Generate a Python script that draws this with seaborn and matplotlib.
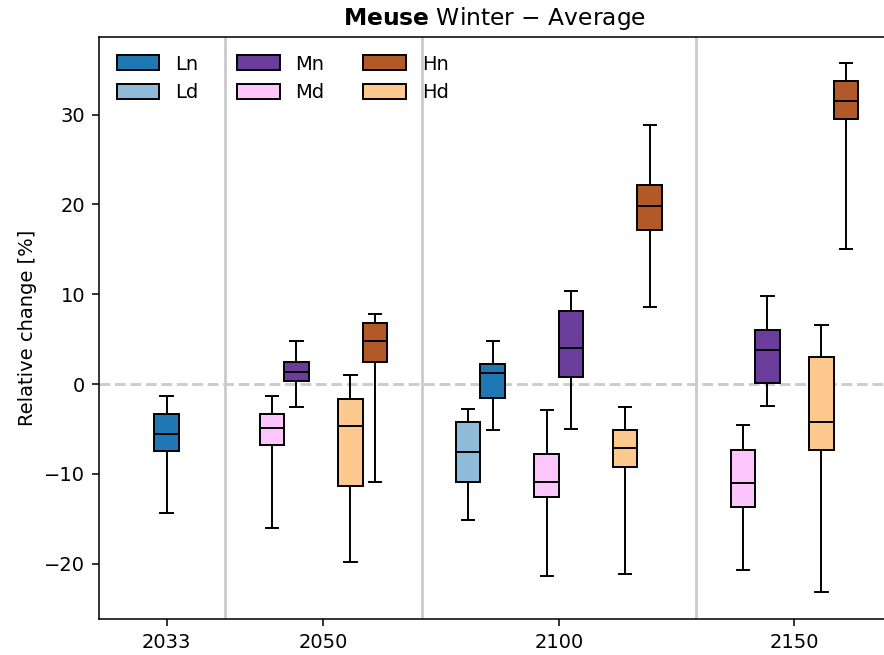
import matplotlib
matplotlib.use("Agg")
import matplotlib.pyplot as plt
import numpy as np
import pandas as pd
import seaborn as sns

# one entry per box
box_year = ["2033",
            "2050", "2050", "2050", "2050",
            "2100", "2100", "2100", "2100", "2100", "2100",
            "2150", "2150", "2150", "2150"]
box_scen = ["Ln",
            "Md", "Mn", "Hd", "Hn",
            "Ld", "Ln", "Md", "Mn", "Hd", "Hn",
            "Md", "Mn", "Hd", "Hn"]
whis_lo = [-14.4, -16.0, -2.6, -19.8, -10.9, -15.1, -5.1, -21.4, -5.0, -21.1, 8.6, -20.7, -2.4, -23.1, 15.0]
q1 = [-7.5, -6.8, 0.3, -11.3, 2.5, -10.9, -1.6, -12.6, 0.8, -9.2, 17.2, -13.7, 0.15, -7.3, 29.5]
med = [-5.5, -4.9, 1.4, -4.7, 4.8, -7.55, 1.2, -10.85, 4.0, -7.1, 19.85, -11.0, 3.8, -4.25, 31.5]
q3 = [-3.3, -3.3, 2.5, -1.7, 6.75, -4.2, 2.2, -7.8, 8.1, -5.1, 22.2, -7.3, 6.05, 3.0, 33.7]
whis_hi = [-1.3, -1.3, 4.8, 1.0, 7.8, -2.75, 4.8, -2.85, 10.35, -2.5, 28.8, -4.6, 9.85, 6.6, 35.75]

years = ["2033", "2050", "2100", "2150"]
scenarios = ["Ln", "Ld", "Mn", "Md", "Hn", "Hd"]
colors = ["#1f77b4", "#8fbbd9", "#6a3d9a", "#fcc5fc", "#b15928", "#fec98f"]

# layout: group centres, level spacing 1, box width inside a pair
year_center = {"2033": 0.0, "2050": 2.0, "2100": 5.0, "2150": 8.0}
bw = 0.312
levels = ["L", "M", "H"]
variants = ["d", "n"]

pos = []
for y, s in zip(box_year, box_scen):
    present = [b for yy, b in zip(box_year, box_scen) if yy == y]
    lv = [l for l in levels if any(p[0] == l for p in present)]
    lc = year_center[y] + (lv.index(s[0]) - (len(lv) - 1) / 2)
    vv = [v for v in variants if s[0] + v in present]
    pos.append(lc + (vv.index(s[1]) - (len(vv) - 1) / 2) * bw)

rows = []
for p, s, a, b, c, d, e in zip(pos, box_scen, whis_lo, q1, med, q3, whis_hi):
    for v in (a, b, c, d, e):
        rows.append({"pos": p, "scen": s, "value": v})
df = pd.DataFrame(rows)

fig = plt.figure(figsize=(884 / 140, 655 / 140), dpi=140)
ax = fig.add_axes([0.112, 0.055, 0.895, 0.8885])

for xs in [0.75, 3.25, 6.75]:
    ax.axvline(xs, color="#cccccc", lw=1.5, zorder=0)
ax.axhline(0, color="#cccccc", lw=1.5, ls="--", zorder=0)

sns.boxplot(data=df, x="pos", y="value", hue="scen", hue_order=scenarios,
            palette=colors, native_scale=True, dodge=False, width=1.0,
            whis=(0, 100), saturation=1, linecolor="black", linewidth=1.0,
            ax=ax)

sns.move_legend(ax, "upper left", ncol=3, frameon=False, title=None,
                handlelength=2.2, handleheight=0.8)

ax.set_xlim(-0.86, 9.22)
ax.set_ylim(-26.14, 38.63)
ax.set_xticks([year_center[y] for y in years])
ax.set_xticklabels(years)
ax.set_yticks([-20, -10, 0, 10, 20, 30])
ax.set_xlabel("")
ax.set_ylabel("Relative change [%]")
ax.set_title(r"$\bf{Meuse}$ Winter − Average", fontsize=12)

fig.savefig("out.png", dpi=140)
